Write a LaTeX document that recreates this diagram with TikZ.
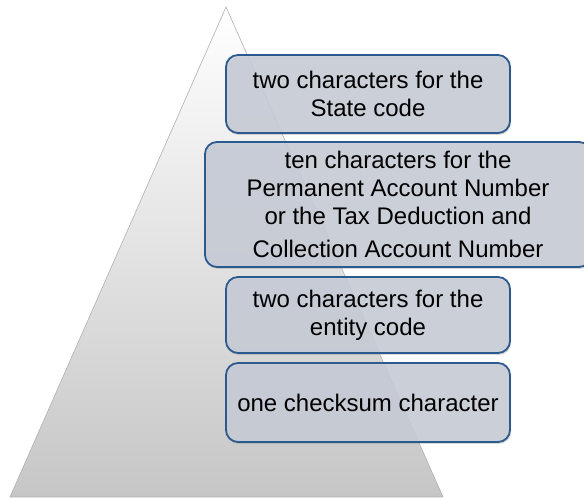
\documentclass[tikz,border=0pt]{standalone}
\usepackage{fontspec}
\setmainfont{Liberation Sans}
\definecolor{PyrEdge}{HTML}{B0B0B0}
\definecolor{PyrBase}{HTML}{C6C6C6}
\definecolor{BoxFill}{HTML}{C8CDD8}
\definecolor{BoxLine}{HTML}{2C5A8E}
\usetikzlibrary{shadows}
\begin{document}
\begin{tikzpicture}[x=1pt,y=1pt,
  field/.style={draw=BoxLine,line width=1.8pt,fill=BoxFill,fill opacity=0.88,
    text opacity=1,rounded corners=12pt,align=center,inner sep=2pt,
    font=\fontsize{24}{28}\selectfont,drop shadow={opacity=0.3,shadow xshift=1pt,shadow yshift=-2pt}},
  pyr/.style={draw=PyrEdge,line width=0.6pt,top color=white,bottom color=PyrBase}]
  \useasboundingbox (0,0) rectangle (584,500);
  \begin{scope}
    \clip (0,0) rectangle (584,500);
    % the pyramid
    \path[pyr] (226,493) -- (443,3) -- (10,3) -- cycle;
    \node[field,minimum width=284pt,minimum height=78pt](state) at (368,406)
      {two characters for the\\State code};
    \node[field,minimum width=386pt,minimum height=125pt](pan) at (398,295.5)
      {ten characters for the\\Permanent Account Number\\or the Tax Deduction and\\[5pt]Collection Account Number};
    \node[field,minimum width=284pt,minimum height=76pt](entity) at (368,185)
      {two characters for the\\entity code};
    \node[field,minimum width=284pt,minimum height=79pt](check) at (368,97.5)
      {one checksum character};
  \end{scope}
\end{tikzpicture}
\end{document}
